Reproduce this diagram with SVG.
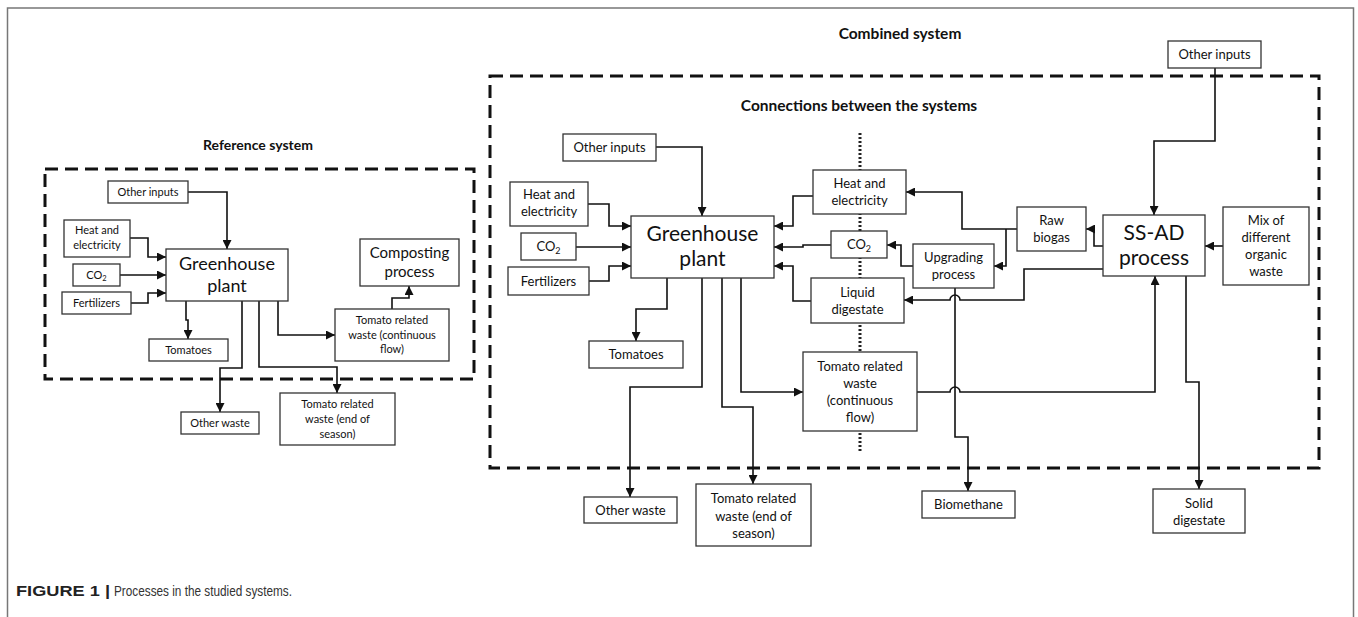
<svg xmlns="http://www.w3.org/2000/svg" width="1358" height="617" viewBox="0 0 1358 617">
<defs>
<marker id="arr" markerUnits="userSpaceOnUse" markerWidth="10" markerHeight="9" refX="9" refY="4.5" orient="auto">
<path d="M0,0 L9,4.5 L0,9 z" fill="#111"/>
</marker>
<style>
.box{fill:#fff;stroke:#333;stroke-width:1.3}
.t{font-family:Lato,"Liberation Sans",sans-serif;fill:#111;text-anchor:middle}
.s11{font-size:11px}
.s13{font-size:13px}
.b{font-weight:bold}
.dash{fill:none;stroke:#111;stroke-width:3;stroke-dasharray:13 7}
.dot{fill:none;stroke:#222;stroke-width:3;stroke-dasharray:2 2}
.c path{fill:none;stroke:#111;stroke-width:1.6;marker-end:url(#arr)}
</style>
</defs>
<rect x="0" y="0" width="1358" height="617" fill="#fff"/>
<rect x="7.5" y="8" width="1346" height="640" fill="none" stroke="#777" stroke-width="1.5"/>

<!-- Titles -->
<text class="t b" x="258" y="150" font-size="14">Reference system</text>
<text class="t b" x="900" y="39" font-size="15.5">Combined system</text>
<text class="t b" x="859" y="111" font-size="15.5">Connections between the systems</text>

<!-- dashed system borders -->
<rect class="dash" x="45" y="169" width="429" height="210"/>
<rect class="dash" x="490" y="76" width="829" height="392"/>
<line class="dot" x1="860" y1="133" x2="860" y2="452"/>

<!-- Connectors -->
<g id="connectors" class="c">
<path d="M188,192 H227 V249"/>
<path d="M130,238 H148 V257 H166"/>
<path d="M120,275 H166"/>
<path d="M131,303 H148 V293 H166"/>
<path d="M186,301 V320 H188 V339"/>
<path d="M242,301 V368 H220 V412"/>
<path d="M259,301 V367 H337 V393"/>
<path d="M278,301 V335 H335"/>
<path d="M392,309 V298 H409 V286"/>
<path d="M656,147 H702 V216"/>
<path d="M588,204 H609 V226 H631"/>
<path d="M576,247 H631"/>
<path d="M589,281 H609 V266 H631"/>
<path d="M813,196 H793 V226 H774"/>
<path d="M831,245 H803 V247 H774"/>
<path d="M811,301 H793 V266 H774"/>
<path d="M1017,229 H962 V192 H906"/>
<path d="M1006,229 V266 H994"/>
<path d="M913,266 H901 V245 H887"/>
<path d="M1103,269 H1024 V300 H960 A5,5 0 0 0 950,300 H904"/>
<path d="M955,288 V437 H968 V491"/>
<path d="M917,392 H950 A5,5 0 0 1 960,392 H1155 V276"/>
<path d="M1103,246 H1094 V229 H1086"/>
<path d="M1223,246 H1205"/>
<path d="M1215,68 V141 H1154 V215"/>
<path d="M1186,276 V382 H1199 V489"/>
<path d="M667,278 V309 H636 V341"/>
<path d="M702,278 V387 H630 V497"/>
<path d="M722,278 V407 H753 V484"/>
<path d="M741,278 V392 H803"/>
</g>

<!-- Reference system nodes -->
<g id="ref-other-inputs"><rect class="box" x="108" y="181" width="80" height="22"/><text class="t s11" x="148" y="196">Other inputs</text></g>
<g id="ref-heat"><rect class="box" x="64" y="220" width="66" height="37"/><text class="t s11" x="97" y="234">Heat and</text><text class="t s11" x="97" y="249">electricity</text></g>
<g id="ref-co2"><rect class="box" x="73" y="264" width="47" height="22"/><text class="t s11" x="96.5" y="279">CO<tspan font-size="7.5" dy="2">2</tspan></text></g>
<g id="ref-fert"><rect class="box" x="62" y="292" width="69" height="22"/><text class="t s11" x="96.5" y="307">Fertilizers</text></g>
<g id="ref-gp"><rect class="box" x="166" y="249" width="122" height="52"/><text class="t" font-size="18" x="227" y="270">Greenhouse</text><text class="t" font-size="18" x="227" y="292">plant</text></g>
<g id="ref-compost"><rect class="box" x="360" y="239" width="99" height="47"/><text class="t" font-size="15" x="409.5" y="258">Composting</text><text class="t" font-size="15" x="409.5" y="277">process</text></g>
<g id="ref-twc"><rect class="box" x="335" y="309" width="114" height="52"/><text class="t s11" x="392" y="324">Tomato related</text><text class="t s11" x="392" y="339">waste (continuous</text><text class="t s11" x="392" y="353">flow)</text></g>
<g id="ref-tomatoes"><rect class="box" x="149" y="339" width="79" height="22"/><text class="t s11" x="188.5" y="354">Tomatoes</text></g>
<g id="ref-other-waste"><rect class="box" x="181" y="412" width="78" height="22"/><text class="t s11" x="220" y="427">Other waste</text></g>
<g id="ref-twe"><rect class="box" x="280" y="393" width="115" height="52"/><text class="t s11" x="337.5" y="408">Tomato related</text><text class="t s11" x="337.5" y="423">waste (end of</text><text class="t s11" x="337.5" y="438">season)</text></g>

<!-- Combined system nodes -->
<g id="cmb-other-inputs-ad"><rect class="box" x="1168" y="41" width="93" height="27"/><text class="t s13" x="1214.5" y="59">Other inputs</text></g>
<g id="cmb-other-inputs-gp"><rect class="box" x="563" y="134" width="93" height="27"/><text class="t s13" x="609.5" y="152">Other inputs</text></g>
<g id="cmb-heat-in"><rect class="box" x="510" y="182" width="78" height="44"/><text class="t s13" x="549" y="199">Heat and</text><text class="t s13" x="549" y="216">electricity</text></g>
<g id="cmb-co2-in"><rect class="box" x="521" y="233" width="55" height="27"/><text class="t s13" x="548.5" y="251">CO<tspan font-size="9" dy="3">2</tspan></text></g>
<g id="cmb-fert"><rect class="box" x="508" y="267" width="81" height="28"/><text class="t s13" x="548.5" y="286">Fertilizers</text></g>
<g id="cmb-gp"><rect class="box" x="631" y="216" width="143" height="62"/><text class="t" font-size="21" x="702.5" y="241">Greenhouse</text><text class="t" font-size="21" x="702.5" y="266">plant</text></g>
<g id="cmb-heat-mid"><rect class="box" x="813" y="170" width="93" height="44"/><text class="t s13" x="859.5" y="188">Heat and</text><text class="t s13" x="859.5" y="205">electricity</text></g>
<g id="cmb-co2-mid"><rect class="box" x="831" y="231" width="56" height="27"/><text class="t s13" x="859" y="249">CO<tspan font-size="9" dy="3">2</tspan></text></g>
<g id="cmb-liquid"><rect class="box" x="811" y="278" width="93" height="45"/><text class="t s13" x="857.5" y="297">Liquid</text><text class="t s13" x="857.5" y="314">digestate</text></g>
<g id="cmb-twc"><rect class="box" x="803" y="352" width="114" height="79"/><text class="t s13" x="860" y="371">Tomato related</text><text class="t s13" x="860" y="388">waste</text><text class="t s13" x="860" y="405">(continuous</text><text class="t s13" x="860" y="422">flow)</text></g>
<g id="cmb-upgrading"><rect class="box" x="913" y="244" width="81" height="44"/><text class="t s13" x="953.5" y="262">Upgrading</text><text class="t s13" x="953.5" y="279">process</text></g>
<g id="cmb-rawbiogas"><rect class="box" x="1017" y="207" width="69" height="44"/><text class="t s13" x="1051.5" y="225">Raw</text><text class="t s13" x="1051.5" y="242">biogas</text></g>
<g id="cmb-ssad"><rect class="box" x="1103" y="215" width="102" height="61"/><text class="t" font-size="21" x="1154" y="240">SS-AD</text><text class="t" font-size="21" x="1154" y="265">process</text></g>
<g id="cmb-mix"><rect class="box" x="1223" y="207" width="86" height="78"/><text class="t s13" x="1266" y="225">Mix of</text><text class="t s13" x="1266" y="242">different</text><text class="t s13" x="1266" y="259">organic</text><text class="t s13" x="1266" y="276">waste</text></g>
<g id="cmb-tomatoes"><rect class="box" x="589" y="341" width="94" height="27"/><text class="t s13" x="636" y="359">Tomatoes</text></g>
<g id="cmb-other-waste"><rect class="box" x="584" y="497" width="93" height="26"/><text class="t s13" x="630.5" y="515">Other waste</text></g>
<g id="cmb-twe"><rect class="box" x="696" y="484" width="115" height="62"/><text class="t s13" x="753.5" y="503">Tomato related</text><text class="t s13" x="753.5" y="521">waste (end of</text><text class="t s13" x="753.5" y="538">season)</text></g>
<g id="cmb-biomethane"><rect class="box" x="922" y="491" width="93" height="27"/><text class="t s13" x="968.5" y="509">Biomethane</text></g>
<g id="cmb-solid"><rect class="box" x="1153" y="489" width="92" height="44"/><text class="t s13" x="1199" y="508">Solid</text><text class="t s13" x="1199" y="525">digestate</text></g>

<!-- Caption -->
<text x="16" y="596" font-family="'Liberation Sans',Arial,sans-serif" font-size="15.5" font-weight="bold" fill="#222" textLength="94" lengthAdjust="spacingAndGlyphs">FIGURE 1 |</text>
<text x="114" y="596" font-family="'Liberation Sans',Arial,sans-serif" font-size="15.5" fill="#333" textLength="178" lengthAdjust="spacingAndGlyphs">Processes in the studied systems.</text>
</svg>
